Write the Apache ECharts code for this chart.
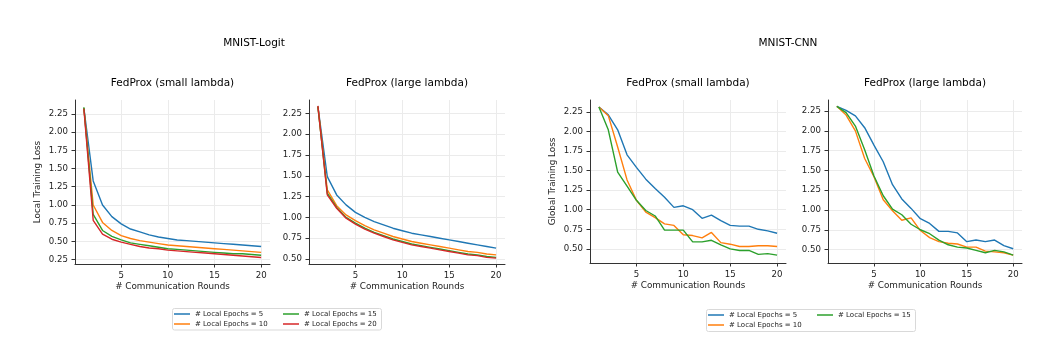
<!DOCTYPE html>
<html>
<head>
<meta charset="utf-8">
<script src="https://cdn.jsdelivr.net/npm/echarts@6/dist/echarts.min.js"></script>
<style>
  html, body { margin: 0; padding: 0; background: #fff; }
  #chart { width: 1053px; height: 355px; }
</style>
</head>
<body>
<div id="chart"></div>
<script>
const rounds = [1, 2, 3, 4, 5, 6, 7, 8, 9, 10, 11, 12, 13, 14, 15, 16, 17, 18, 19, 20]
const xTicks = [5, 10, 15, 20]
const seriesNames = ['# Local Epochs = 5', '# Local Epochs = 10', '# Local Epochs = 15', '# Local Epochs = 20']
const colors = ['#1f77b4', '#ff7f0e', '#2ca02c', '#d62728']

// MNIST-Logit, FedProx (small lambda)
const logitSmallE5 = [2.33, 1.33, 1.00, 0.84, 0.74, 0.67, 0.63, 0.59, 0.56, 0.54, 0.52, 0.51, 0.50, 0.49, 0.48, 0.47, 0.46, 0.45, 0.44, 0.43]
const logitSmallE10 = [2.33, 1.00, 0.76, 0.65, 0.58, 0.54, 0.51, 0.49, 0.47, 0.45, 0.44, 0.43, 0.42, 0.41, 0.40, 0.39, 0.38, 0.37, 0.36, 0.35]
const logitSmallE15 = [2.34, 0.87, 0.65, 0.57, 0.52, 0.48, 0.46, 0.44, 0.42, 0.40, 0.39, 0.38, 0.37, 0.36, 0.35, 0.34, 0.33, 0.33, 0.32, 0.31]
const logitSmallE20 = [2.32, 0.79, 0.60, 0.53, 0.49, 0.46, 0.43, 0.41, 0.40, 0.38, 0.37, 0.36, 0.35, 0.34, 0.33, 0.32, 0.31, 0.30, 0.29, 0.28]

// MNIST-Logit, FedProx (large lambda)
const logitLargeE5 = [2.33, 1.49, 1.27, 1.15, 1.06, 1.00, 0.95, 0.91, 0.87, 0.84, 0.81, 0.79, 0.77, 0.75, 0.73, 0.71, 0.69, 0.67, 0.65, 0.63]
const logitLargeE10 = [2.33, 1.33, 1.14, 1.03, 0.96, 0.90, 0.85, 0.81, 0.77, 0.74, 0.71, 0.69, 0.67, 0.65, 0.63, 0.61, 0.59, 0.58, 0.56, 0.55]
const logitLargeE15 = [2.33, 1.29, 1.12, 1.00, 0.93, 0.87, 0.82, 0.78, 0.74, 0.71, 0.68, 0.66, 0.64, 0.62, 0.60, 0.58, 0.56, 0.55, 0.53, 0.52]
const logitLargeE20 = [2.34, 1.27, 1.11, 0.99, 0.92, 0.86, 0.81, 0.77, 0.73, 0.70, 0.67, 0.65, 0.63, 0.61, 0.59, 0.57, 0.55, 0.54, 0.52, 0.51]

// MNIST-CNN, FedProx (small lambda)
const cnnSmallE5 = [2.31, 2.21, 2.02, 1.70, 1.54, 1.39, 1.27, 1.16, 1.03, 1.05, 1.00, 0.89, 0.93, 0.86, 0.80, 0.79, 0.79, 0.75, 0.73, 0.70]
const cnnSmallE10 = [2.31, 2.20, 1.80, 1.38, 1.12, 0.97, 0.90, 0.82, 0.80, 0.68, 0.67, 0.64, 0.71, 0.58, 0.56, 0.53, 0.53, 0.54, 0.54, 0.53]
const cnnSmallE15 = [2.31, 2.02, 1.48, 1.30, 1.12, 0.99, 0.92, 0.74, 0.74, 0.74, 0.59, 0.59, 0.61, 0.55, 0.50, 0.48, 0.48, 0.43, 0.44, 0.42]

// MNIST-CNN, FedProx (large lambda)
const cnnLargeE5 = [2.31, 2.26, 2.19, 2.04, 1.82, 1.61, 1.32, 1.14, 1.02, 0.89, 0.83, 0.73, 0.73, 0.71, 0.60, 0.62, 0.60, 0.62, 0.55, 0.51]
const cnnLargeE10 = [2.31, 2.20, 2.00, 1.65, 1.42, 1.13, 0.99, 0.87, 0.90, 0.74, 0.65, 0.60, 0.58, 0.57, 0.53, 0.53, 0.48, 0.47, 0.46, 0.43]
const cnnLargeE15 = [2.31, 2.23, 2.06, 1.76, 1.43, 1.18, 1.01, 0.94, 0.82, 0.75, 0.70, 0.62, 0.56, 0.53, 0.52, 0.49, 0.46, 0.49, 0.47, 0.43]

const yTicksLogitSmall = [0.25, 0.5, 0.75, 1.0, 1.25, 1.5, 1.75, 2.0, 2.25]
const yTicksOther = [0.5, 0.75, 1.0, 1.25, 1.5, 1.75, 2.0, 2.25]

const panels = [
  { title: 'FedProx (small lambda)', left: 75, width: 195, height: 164, ymin: 0.19, ymax: 2.44, yTicks: yTicksLogitSmall, yName: 'Local Training Loss', lines: [logitSmallE5, logitSmallE10, logitSmallE15, logitSmallE20] },
  { title: 'FedProx (large lambda)', left: 309, width: 196, height: 164, ymin: 0.44, ymax: 2.41, yTicks: yTicksOther, yName: '', lines: [logitLargeE5, logitLargeE10, logitLargeE15, logitLargeE20] },
  { title: 'FedProx (small lambda)', left: 590, width: 196, height: 163, ymin: 0.32, ymax: 2.40, yTicks: yTicksOther, yName: 'Global Training Loss', lines: [cnnSmallE5, cnnSmallE10, cnnSmallE15] },
  { title: 'FedProx (large lambda)', left: 828, width: 194, height: 163, ymin: 0.33, ymax: 2.39, yTicks: yTicksOther, yName: '', lines: [cnnLargeE5, cnnLargeE10, cnnLargeE15] }
]

const font = 'DejaVu Sans'
const gridColor = '#ebebeb'
const spineColor = '#333'

const chart = echarts.init(document.getElementById('chart'))

const grid = panels.map(p => ({ left: p.left, top: 100, width: p.width, height: p.height }))

const xAxis = panels.map((p, i) => ({
  type: 'value',
  gridIndex: i,
  min: 0.05,
  max: 20.95,
  name: '# Communication Rounds',
  nameLocation: 'middle',
  nameGap: 18,
  nameTextStyle: { fontFamily: font, fontSize: 8.8, color: '#222' },
  axisLine: { lineStyle: { color: spineColor, width: 1 } },
  axisTick: { show: true, length: 3.5, lineStyle: { color: spineColor }, customValues: xTicks },
  axisLabel: { fontFamily: font, fontSize: 8.6, color: '#222', margin: 7, customValues: xTicks },
  splitLine: { show: true, lineStyle: { color: gridColor, width: 1 } }
}))

const yAxis = panels.map((p, i) => ({
  type: 'value',
  gridIndex: i,
  min: p.ymin,
  max: p.ymax,
  name: p.yName,
  nameLocation: 'middle',
  nameRotate: 90,
  nameGap: 33,
  nameTextStyle: { fontFamily: font, fontSize: 8.8, color: '#222' },
  axisLine: { show: true, lineStyle: { color: spineColor, width: 1 } },
  axisTick: { show: true, length: 3.5, lineStyle: { color: spineColor }, customValues: p.yTicks },
  axisLabel: { fontFamily: font, fontSize: 8.6, color: '#222', margin: 7, customValues: p.yTicks, formatter: v => v.toFixed(2) },
  splitLine: { show: true, lineStyle: { color: gridColor, width: 1 } }
}))

const series = []
panels.forEach((p, i) => {
  p.lines.forEach((vals, k) => {
    series.push({
      name: seriesNames[k],
      type: 'line',
      xAxisIndex: i,
      yAxisIndex: i,
      showSymbol: false,
      symbol: 'none',
      smooth: false,
      lineStyle: { width: 1.4, color: colors[k] },
      itemStyle: { color: colors[k] },
      data: rounds.map((r, j) => [r, vals[j]])
    })
  })
})

// one legend component per entry, laid out in two columns like the source
const legendItem = (k, left, top) => ({
  data: [seriesNames[k]],
  left: left,
  top: top,
  padding: 0,
  icon: 'rect',
  itemWidth: 16,
  itemHeight: 1.5,
  selectedMode: false,
  textStyle: { fontFamily: font, fontSize: 7, color: '#222', lineHeight: 8 }
})

const legend = [
  legendItem(0, 174, 310),
  legendItem(1, 174, 320),
  legendItem(2, 283, 310),
  legendItem(3, 283, 320),
  legendItem(0, 708, 311),
  legendItem(1, 708, 321),
  legendItem(2, 817, 311)
]

const titleText = (text, x, y, size) => ({
  type: 'text',
  x: x,
  y: y,
  style: { text: text, fontFamily: font, fontSize: size, fill: '#000', textAlign: 'center', textVerticalAlign: 'middle' }
})

const option = {
  animation: false,
  color: colors,
  grid: grid,
  xAxis: xAxis,
  yAxis: yAxis,
  legend: legend,
  series: series,
  graphic: [
    titleText('MNIST-Logit', 254, 43, 10.5),
    titleText('MNIST-CNN', 788, 43, 10.5),
    titleText('FedProx (small lambda)', 172.5, 83, 10.5),
    titleText('FedProx (large lambda)', 407, 83, 10.5),
    titleText('FedProx (small lambda)', 688, 83, 10.5),
    titleText('FedProx (large lambda)', 925, 83, 10.5),
    { type: 'rect', shape: { x: 172.5, y: 308.5, width: 209, height: 21.5, r: 2 }, style: { fill: 'none', stroke: '#d9d9d9', lineWidth: 1 }, z: -1 },
    { type: 'rect', shape: { x: 706.5, y: 309.5, width: 209, height: 22, r: 2 }, style: { fill: 'none', stroke: '#d9d9d9', lineWidth: 1 }, z: -1 }
  ]
}

chart.setOption(option)
window.addEventListener('resize', () => {
  chart.resize()
})
</script>
</body>
</html>
